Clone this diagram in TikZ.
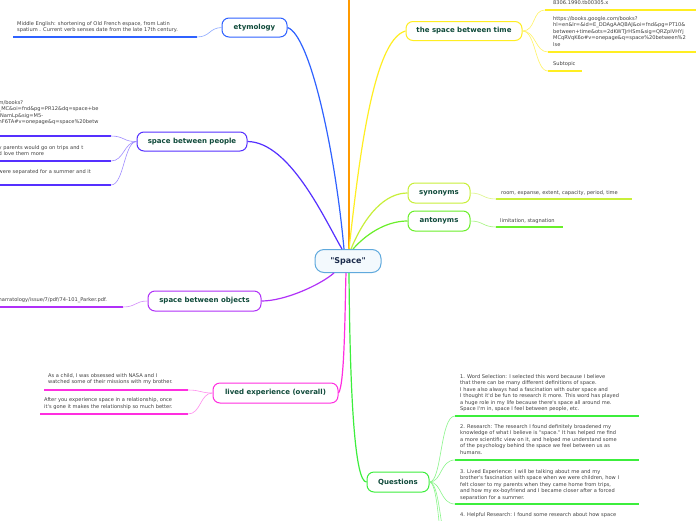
\documentclass[tikz,border=0pt]{standalone}
\usepackage{fontspec}
\setmainfont{DejaVu Sans}[Ligatures=TeXOff]
\definecolor{cEty}{HTML}{2F62FF}
\definecolor{cPeople}{HTML}{5530FF}
\definecolor{cObj}{HTML}{B030F8}
\definecolor{cLived}{HTML}{FF2EE0}
\definecolor{cQ}{HTML}{3CEE3C}
\definecolor{cAnt}{HTML}{6AEF2A}
\definecolor{cSyn}{HTML}{C8EF3A}
\definecolor{cTime}{HTML}{FFEE22}
\definecolor{cOr}{HTML}{FF9A00}
\definecolor{nodetext}{HTML}{0F4A3A}
\definecolor{leaftext}{HTML}{404040}
\definecolor{cCenter}{HTML}{5FA9DD}
\definecolor{cCenterFill}{HTML}{F3F9FD}
\definecolor{cCenterText}{HTML}{1B2B4B}
\tikzset{
  topic/.style={draw, line width=1pt, rounded corners=7pt, fill=white, minimum height=19pt, inner sep=1pt, font=\fontsize{7}{8}\selectfont\bfseries, text=nodetext},
  leaf/.style={inner sep=0pt, align=left, font=\fontsize{5.1}{6.5}\selectfont, text=leaftext, anchor=north west},
  branch/.style={line width=1.2pt},
  under/.style={line width=2pt},
  twig/.style={line width=0.6pt}
}
\begin{document}
\begin{tikzpicture}[x=1pt,y=-1pt]
\useasboundingbox (0,0) rectangle (696,520);
\clip (0,0) rectangle (696,520);
\fill[white] (0,0) rectangle (696,520);

% ---------- main topics ----------
\node[draw=cCenter, line width=1pt, fill=cCenterFill, rounded corners=9pt, minimum width=66pt, minimum height=23pt, font=\fontsize{8}{9}\selectfont\bfseries, text=cCenterText] (c) at (348,261) {"Space"};
\node[topic, draw=cEty, minimum width=65pt] (ety) at (254.5,27.5) {etymology};
\node[topic, draw=cTime, minimum width=116pt] (time) at (464,31) {the space between time};
\node[topic, draw=cSyn, minimum width=62pt, minimum height=20pt] (syn) at (439,193) {synonyms};
\node[topic, draw=cAnt, minimum width=62pt, minimum height=20pt] (ant) at (439,221) {antonyms};
\node[topic, draw=cPeople, minimum width=110pt] (people) at (192,141.5) {space between people};
\node[topic, draw=cObj, minimum width=113pt, minimum height=20pt] (obj) at (204.5,301) {space between objects};
\node[topic, draw=cLived, minimum width=125pt, minimum height=20pt] (lived) at (275.5,393) {lived experience (overall)};
\node[topic, draw=cQ, minimum width=62pt, minimum height=20pt] (quest) at (398,482) {Questions};

% ---------- main branches ----------
\coordinate (top) at (349,0);
\draw[branch, cOr] ([xshift=1pt]c.north) -- (top);
\draw[branch, cEty] ([xshift=-4pt]c.north) .. controls (335,150) and (310,35) .. (ety.east);
\draw[branch, cPeople] ([xshift=-6pt]c.north) .. controls (325,220) and (290,142) .. (people.east);
\draw[branch, cObj] ([xshift=-14pt]c.south) .. controls (320,285) and (285,301) .. (obj.east);
\draw[branch, cLived] ([xshift=-2pt]c.south) .. controls (345,300) and (345,385) .. (lived.east);
\draw[branch, cQ] ([xshift=1pt]c.south) .. controls (350,400) and (355,482) .. (quest.west);
\draw[branch, cTime] ([xshift=1pt]c.north) .. controls (358,170) and (372,40) .. (time.west);
\draw[branch, cSyn] ([xshift=3pt]c.north) .. controls (365,215) and (385,193) .. (syn.west);
\draw[branch, cAnt] ([xshift=5pt]c.north) .. controls (370,230) and (390,221) .. (ant.west);

% ---------- etymology ----------
\node[leaf] (etyl) at (17,21.2) {Middle English: shortening of Old French espace, from Latin\\spatium . Current verb senses date from the late 17th century.};
\coordinate (e1) at (13,37); \coordinate (e2) at (197,37);
\draw[under, cEty] (e1) -- (e2);
\draw[twig, cEty!55] (e2) .. controls (210,37) and (209,28) .. (ety.west);

% ---------- space between people ----------
\node[leaf] (pl1) at (-1.5,100.2) {m/books?\\\_MC\&oi=fnd\&pg=PR12\&dq=space+be\\lNamLp\&sig=M5-\\nF6TA\#v=onepage\&q=space\%20betw};
\node[leaf] (pl2) at (-1.5,145.2) {y parents would go on trips and t\\d love them more};
\node[leaf] (pl3) at (-1.5,169.2) {were separated for a summer and it};
\coordinate (p1a) at (0,136); \coordinate (p1b) at (111,136);
\coordinate (p2a) at (0,161); \coordinate (p2b) at (111,161);
\coordinate (p3a) at (0,185); \coordinate (p3b) at (111,185);
\draw[under, cPeople] (p1a) -- (p1b);
\draw[under, cPeople] (p2a) -- (p2b);
\draw[under, cPeople] (p3a) -- (p3b);
\draw[twig, cPeople!55] (p1b) .. controls (124,136) and (124,142) .. (people.west);
\draw[twig, cPeople!55] (p2b) .. controls (124,161) and (124,142) .. (people.west);
\draw[twig, cPeople!55] (p3b) .. controls (124,185) and (124,142) .. (people.west);

% ---------- space between objects ----------
\node[leaf] (ol) at (-1.5,297.2) {narratology/issue/7/pdf/74-101\_Parker.pdf.};
\coordinate (o1) at (0,307); \coordinate (o2) at (123,307);
\draw[under, cObj] (o1) -- (o2);
\draw[twig, cObj!55] (o2) .. controls (136,307) and (135,301) .. (obj.west);

% ---------- lived experience ----------
\node[leaf] (ll1) at (48,373.2) {As a child, I was obsessed with NASA and I\\watched some of their missions with my brother.};
\node[leaf] (ll2) at (44,397.8) {After you experience space in a relationship, once\\it's gone it makes the relationship so much better.};
\coordinate (l1a) at (44,390); \coordinate (l1b) at (188,390);
\coordinate (l2a) at (40,414); \coordinate (l2b) at (188,414);
\draw[under, cLived] (l1a) -- (l1b);
\draw[under, cLived] (l2a) -- (l2b);
\draw[twig, cLived!55] (l1b) .. controls (201,390) and (200,393) .. (lived.west);
\draw[twig, cLived!55] (l2b) .. controls (201,414) and (200,393) .. (lived.west);

% ---------- the space between time ----------
\node[leaf] (tl1) at (553,0.2) {8306.1990.tb00305.x};
\node[leaf] (tl2) at (553,16.2) {https://books.google.com/books?\\hl=en\&lr=\&id=E\_DDAgAAQBAJ\&oi=fnd\&pg=PT10\&\\between+time\&ots=2dKWTJrHSm\&sig=QRZpIVHYj\\MCqRVqK6o\#v=onepage\&q=space\%20between\%2\\lse};
\node[leaf] (tl3) at (553,61.2) {Subtopic};
\coordinate (t1a) at (545,10); \coordinate (t1b) at (700,10);
\coordinate (t2a) at (548,52); \coordinate (t2b) at (700,52);
\coordinate (t3a) at (548,71); \coordinate (t3b) at (582,71);
\draw[under, cTime] (t1a) -- (t1b);
\draw[under, cTime] (t2a) -- (t2b);
\draw[under, cTime] (t3a) -- (t3b);
\draw[twig, cTime!70] (time.east) .. controls (536,31) and (532,10) .. (t1a);
\draw[twig, cTime!70] (time.east) .. controls (536,31) and (535,52) .. (t2a);
\draw[twig, cTime!70] (time.east) .. controls (536,31) and (535,71) .. (t3a);

% ---------- synonyms / antonyms ----------
\node[leaf] (sl) at (501,190.2) {room, expanse, extent, capacity, period, time};
\coordinate (s1) at (496,199); \coordinate (s2) at (632,199);
\draw[under, cSyn] (s1) -- (s2);
\draw[twig, cSyn!60] (syn.east) .. controls (483,193) and (483,199) .. (s1);
\node[leaf] (al) at (500,218.2) {limitation, stagnation};
\coordinate (a1) at (496,227); \coordinate (a2) at (563,227);
\draw[under, cAnt] (a1) -- (a2);
\draw[twig, cAnt!60] (ant.east) .. controls (483,221) and (483,227) .. (a1);

% ---------- Questions ----------
\node[leaf] (q1) at (460,374.2) {1. Word Selection: I selected this word because I believe\\that there can be many different definitions of space.\\I have also always had a fascination with outer space and\\I thought it'd be fun to research it more. This word has played\\a huge role in my life because there's space all around me.\\Space I'm in, space I feel between people, etc.};
\node[leaf] (q2) at (460,424.2) {2. Research: The research I found definitely broadened my\\knowledge of what I believe is "space." It has helped me find\\a more scientific view on it, and helped me understand some\\of the psychology behind the space we feel between us as\\humans.};
\node[leaf] (q3) at (460,469.2) {3. Lived Experience: I will be talking about me and my\\brother's fascination with space when we were children, how I\\felt closer to my parents when they came home from trips,\\and how my ex-boyfriend and I became closer after a forced\\separation for a summer.};
\node[leaf] (q4) at (460,512.2) {4. Helpful Research: I found some research about how space};
\coordinate (q1a) at (455,416); \coordinate (q1b) at (639,416);
\coordinate (q2a) at (455,460); \coordinate (q2b) at (639,460);
\coordinate (q3a) at (455,504); \coordinate (q3b) at (639,504);
\coordinate (q4a) at (455,560);
\coordinate (q5a) at (455,610);
\draw[under, cQ] (q1a) -- (q1b);
\draw[under, cQ] (q2a) -- (q2b);
\draw[under, cQ] (q3a) -- (q3b);
\draw[twig, cQ!60] (quest.east) .. controls (442,482) and (440,416) .. (q1a);
\draw[twig, cQ!60] (quest.east) .. controls (442,482) and (440,460) .. (q2a);
\draw[twig, cQ!60] (quest.east) .. controls (442,482) and (440,504) .. (q3a);
\draw[twig, cQ!60] (quest.east) .. controls (442,482) and (440,560) .. (q4a);
\draw[twig, cQ!60] (quest.east) .. controls (442,482) and (440,610) .. (q5a);
\end{tikzpicture}
\end{document}
